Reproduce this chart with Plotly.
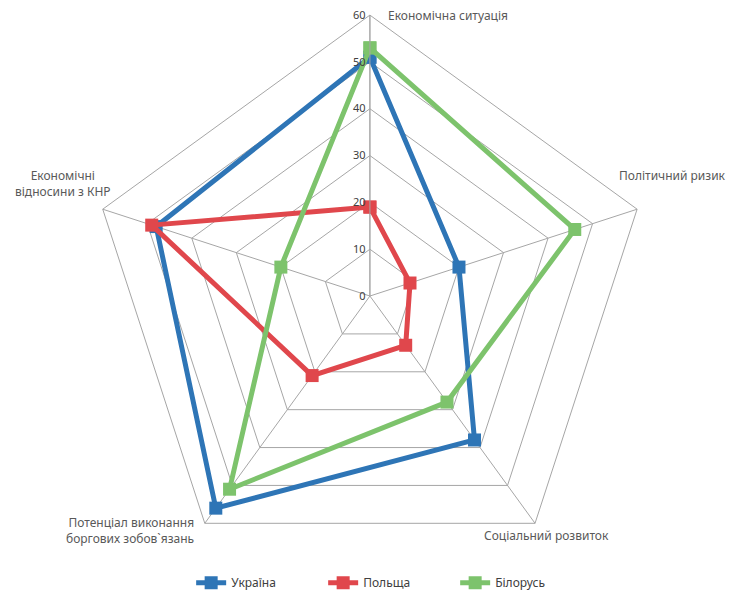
import plotly.graph_objects as go

categories = ["Економічна ситуація", "Політичний ризик", "Соціальний розвиток",
              "Потенціал виконання боргових зобов`язань", "Економічні відносини з КНР"]
ukraine = [51, 20, 38, 56, 48]
poland = [19, 9, 13, 21, 49]
belarus = [53, 46, 28, 51, 20]
series_names = ["Україна", "Польща", "Білорусь"]
colors = ["#2E75B6", "#E0474C", "#7DC36C"]

fig = go.Figure()
for name, vals, col in zip(series_names, [ukraine, poland, belarus], colors):
    fig.add_trace(go.Scatterpolar(
        r=vals + vals[:1], theta=categories + categories[:1], mode="lines+markers",
        name=name, line=dict(color=col, width=5),
        marker=dict(symbol="square", size=13, color=col)))

grey = "#A6A6A6"
label_font = dict(family="Noto Sans", size=12, color="#595959")

# page has an 8px body margin, so label positions are offset by -8
fig.update_layout(
    width=743, height=600, paper_bgcolor="white", plot_bgcolor="white",
    margin=dict(l=0, r=0, t=0, b=0),
    font=dict(family="Noto Sans", size=12, color="#404040"),
    polar=dict(
        domain=dict(x=[0.109, 0.8652], y=[0.0516, 0.9883]),
        bgcolor="white", gridshape="linear",
        radialaxis=dict(range=[0, 60], dtick=10, angle=90, tickangle=90,
                        showline=True, linecolor=grey, linewidth=1,
                        gridcolor=grey, gridwidth=1, ticks="",
                        side="counterclockwise",
                        tickfont=dict(size=11, color="#404040")),
        angularaxis=dict(rotation=90, direction="clockwise", showticklabels=False,
                         linecolor=grey, linewidth=1, gridcolor=grey, gridwidth=1,
                         ticks=""),
    ),
    legend=dict(orientation="h", x=0.513, xanchor="center", y=0.018, yanchor="bottom",
                font=dict(size=12, color="#404040"), itemwidth=30,
                entrywidth=87, entrywidthmode="pixels"),
    annotations=[
        dict(text="Економічна ситуація", x=378, y=7, xanchor="left"),
        dict(text="Політичний ризик", x=609, y=167, xanchor="left"),
        dict(text="Соціальний розвиток", x=474, y=527, xanchor="left"),
        dict(text="Потенціал виконання<br>боргових зобов`язань", x=188, y=522,
             xanchor="right", align="right"),
        dict(text="Економічні<br>відносини з КНР", x=55, y=175,
             xanchor="center", align="center"),
    ],
)
for a in fig.layout.annotations:
    a.update(xref="paper", yref="paper", x=a.x / 743, y=1 - a.y / 600,
             yanchor="middle", showarrow=False, font=label_font)

fig.write_html("out.html")
